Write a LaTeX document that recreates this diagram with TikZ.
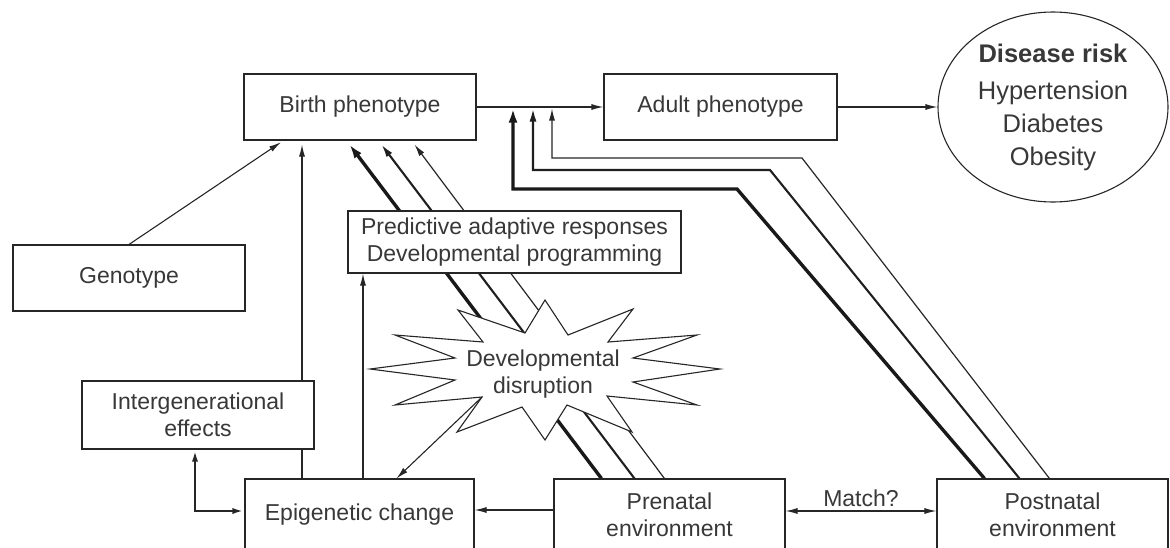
\documentclass[tikz,border=0pt]{standalone}
\usepackage{fontspec}
\setmainfont{Liberation Sans}
\usetikzlibrary{shapes.geometric,arrows.meta,calc,backgrounds}
\begin{document}
\begin{tikzpicture}[x=1pt,y=-1pt,
  box/.style={draw=black!85, line width=1.1pt, fill=white, rectangle, inner sep=0pt,
    align=center, text=black!78, font=\fontsize{23}{27}\selectfont},
  lbl/.style={text=black!78, font=\fontsize{23}{27}\selectfont, align=center, inner sep=1pt},
  arr/.style={draw=black!85, line width=1.1pt, -{Latex[length=12pt,width=6pt]}},
  dbl/.style={draw=black!85, line width=1.1pt, {Latex[length=12pt,width=6pt]}-{Latex[length=12pt,width=6pt]}},
  wthick/.style={draw=black!90, line width=3.4pt, -{Latex[length=14pt,width=9pt]}},
  wmed/.style={draw=black!88, line width=2.1pt, -{Latex[length=13pt,width=7pt]}},
  wthin/.style={draw=black!85, line width=1.2pt, -{Latex[length=12pt,width=6pt]}},
  burst/.style={draw=black!85, line width=1.1pt, fill=white, line join=miter}
]
\useasboundingbox (0,0) rectangle (1170,547);
\clip (0,0) rectangle (1170,547);

% nodes
\node[box, minimum width=232pt, minimum height=66pt] (birth) at (360,107) {Birth phenotype};
\node[box, minimum width=233pt, minimum height=66pt] (adult) at (720.5,107) {Adult phenotype};
\node[draw=black!85, line width=1.1pt, ellipse, inner sep=0pt, minimum width=230pt, minimum height=190pt,
      align=center, text=black!78, font=\fontsize{25.5}{33}\selectfont] (disease) at (1053,107)
      {\textbf{Disease risk}\\[4pt]Hypertension\\Diabetes\\Obesity};
\node[box, minimum width=232pt, minimum height=66pt] (geno) at (129,278) {Genotype};
\node[box, minimum width=333pt, minimum height=62pt] (pred) at (514.5,242)
      {Predictive adaptive responses\\Developmental programming};
\node[box, minimum width=232pt, minimum height=68pt] (inter) at (198,415)
      {Intergenerational\\effects};
\node[box, minimum width=229pt, minimum height=72pt] (epi) at (359.5,515) {Epigenetic change};
\node[box, minimum width=231pt, minimum height=72pt] (pre) at (669.5,515) {Prenatal\\environment};
\node[box, minimum width=231pt, minimum height=72pt] (post) at (1052.5,515) {Postnatal\\environment};

% helper coordinates
\coordinate (x195) at (195,0);
\coordinate (x302) at (302,0);
\coordinate (x363) at (363,0);
\coordinate (j1) at (513,108.5);
\coordinate (j2) at (533,108.5);
\coordinate (j3) at (552,108.5);
\coordinate (c1) at (737,189);
\coordinate (c2) at (770,170);
\coordinate (c3) at (802,158);

% background lines (behind white boxes and burst)
\begin{scope}[on background layer]
  % prenatal -> birth phenotype bundle
  \draw[wthick] ($(pre.north west)+(48,0)$) -- ($(birth.south west)+(106,4)$);
  \draw[wmed]   ($(pre.north west)+(81,0)$) -- ($(birth.south west)+(138,4)$);
  \draw[wthin]  ($(pre.north west)+(111,0)$) -- ($(birth.south west)+(171,4)$);
  % postnatal -> birth/adult connector bundle
  \draw[wthick] ($(post.north west)+(48,0)$) -- (c1) -- (c1 -| j1) -- (j1);
  \draw[wmed]   ($(post.north west)+(83,0)$) -- (c2) -- (c2 -| j2) -- (j2);
  \draw[wthin]  ($(post.north west)+(113,0)$) -- (c3) -- (c3 -| j3) -- (j3);
  % epigenetic -> birth phenotype (behind intergenerational box)
  \draw[arr, shorten >=4pt] (epi.north -| x302) -- (birth.south -| x302);
\end{scope}

% starburst
\draw[burst] (545,300) -- (568,335) -- (633,309) -- (608,342) -- (697,335) -- (633,358)
  -- (720,369) -- (633,382) -- (697,405) -- (607,396) -- (632,432) -- (567,405)
  -- (545,440) -- (522,407) -- (457,432) -- (482,397) -- (395,405) -- (455,380)
  -- (370,369) -- (455,358) -- (395,335) -- (483,342) -- (458,310) -- (525,333) -- cycle;
\node[lbl] (dd) at (543,374) {Developmental\\disruption};
\coordinate (burstLL) at (482,397);

% connectors
\draw[arr] (birth) -- (adult);
\draw[arr] (adult) -- (disease);
\draw[arr, shorten >=3pt] (geno.north) -- ($(birth.south west)+(40,0)$);
\draw[arr] (epi.north -| x363) -- (pred.south -| x363);
\draw[arr] (burstLL) -- ($(epi.north west)+(152,0)$);
\draw[dbl, line width=2.4pt] (inter.south -| x195) |- ([yshift=4pt]epi.west);
\draw[arr] ([yshift=5pt]pre.west) -- ([yshift=5pt]epi.east);
\draw[dbl] ([yshift=4pt]pre.east) -- node[lbl, above=3pt] (match) {Match?} ([yshift=4pt]post.west);
\end{tikzpicture}
\end{document}
